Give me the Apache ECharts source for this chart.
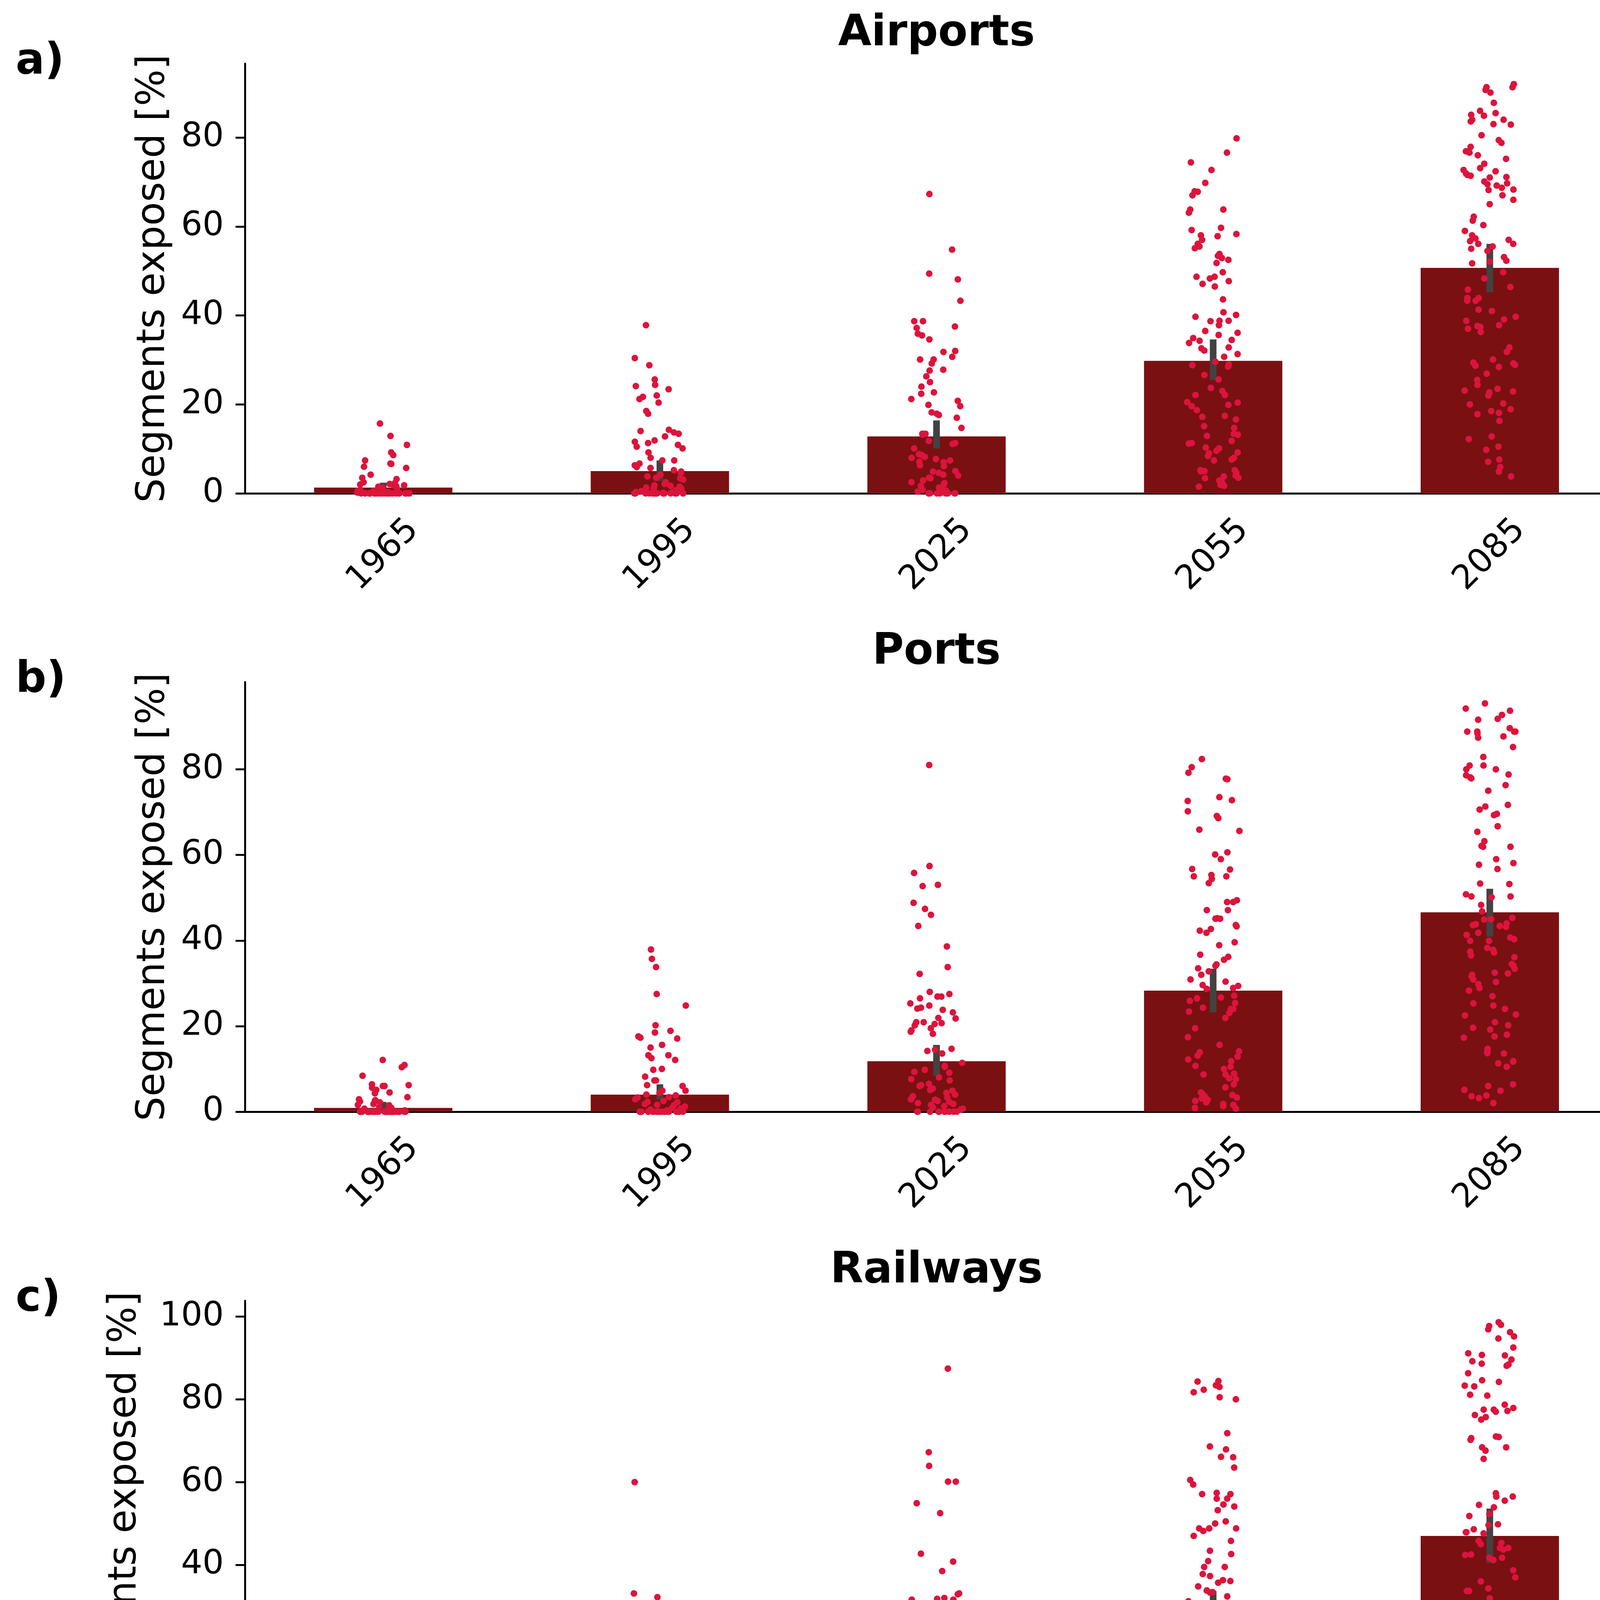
<!DOCTYPE html>
<html style="height: 100%">
<head>
    <meta charset="utf-8">
    <script src="https://cdn.jsdelivr.net/npm/echarts@6/dist/echarts.min.js"></script>
</head>
<body style="height: 100%; margin: 0">
<div id="main" style="width: 4204px; height: 7889px"></div>
<script type="text/javascript">
var YEARS = ['1965', '1995', '2025', '2055', '2085'];
var TITLES = ['Airports', 'Ports', 'Railways', 'Roads', 'IWWs'];
var LETTERS = ['a)', 'b)', 'c)', 'd)', 'e)'];

// bar height = mean share exposed, with the CI of the mean
var AIRPORTS_MEAN = [1.3, 5.0, 12.8, 29.8, 50.7];
var AIRPORTS_LOW = [0.6, 2.8, 10.1, 25.5, 45.2];
var AIRPORTS_HIGH = [2.4, 7.4, 16.4, 34.6, 56.1];
var PORTS_MEAN = [0.9, 4.0, 11.8, 28.3, 46.6];
var PORTS_LOW = [0.5, 2.9, 8.4, 23.2, 40.9];
var PORTS_HIGH = [2.3, 6.4, 15.6, 33.4, 52.1];
var RAILWAYS_MEAN = [1.2, 5.1, 12.2, 28.2, 47.0];
var RAILWAYS_LOW = [0.4, 2.5, 8.5, 23.0, 40.4];
var RAILWAYS_HIGH = [2.9, 7.7, 16.5, 33.7, 53.6];
var ROADS_MEAN = [1.3, 5.0, 12.2, 28.0, 47.4];
var ROADS_LOW = [0.5, 2.7, 8.5, 22.8, 41.6];
var ROADS_HIGH = [2.8, 7.4, 15.9, 33.2, 53.7];
var IWWS_MEAN = [0.8, 4.0, 11.0, 25.9, 41.9];
var IWWS_LOW = [0.6, 1.4, 7.1, 20.4, 34.9];
var IWWS_HIGH = [2.4, 7.0, 16.2, 31.7, 48.7];

// individual segments (strip points), one list per year
var AIRPORTS_POINTS = [
    [15.7,12.9,10.9,9.2,8.6,7.4,6.7,6.6,6.0,5.7,4.2,3.5,3.2,2.5,2.3,2.1,2.0,1.8,1.8,1.6,1.5,1.2,1.0,0.8,0.6,0.5,0.3,0.2,0.1,
     0,0,0,0,0,0,0,0,0,0,0,0,0,0,0,0,0,0,0,0,0,0,0,0,0,0,0,0,0,0],
    [37.8,30.4,28.8,25.6,24.4,24.1,23.4,22.0,21.7,21.2,20.4,18.5,17.9,14.3,14.0,13.7,13.4,12.8,11.9,11.6,11.3,10.9,10.5,10.1,9.2,8.0,7.4,7.4,6.7,6.3,5.9,5.7,5.2,4.9,4.6,4.2,3.8,3.5,3.4,3.1,2.5,2.1,1.8,1.7,1.5,1.3,1.1,1.0,0.8,0.7,0.5,0.4,0.3,0.2,0.1,
     0,0,0,0,0,0,0,0,0,0,0,0,0,0,0,0,0,0,0,0],
    [67.3,54.8,49.4,48.1,43.3,38.7,38.7,37.5,37.2,35.9,35.5,34.6,32.0,31.8,30.7,30.1,30.1,29.2,27.8,27.6,26.3,25.0,24.0,22.7,22.4,21.2,20.8,19.9,19.6,18.2,17.9,17.6,17.0,14.7,13.4,13.4,13.2,11.8,11.3,11.1,10.1,8.8,8.6,8.2,8.0,7.7,7.4,7.1,7.0,6.3,6.1,5.0,4.9,4.6,4.2,4.0,3.5,3.4,2.9,2.5,2.3,2.0,1.7,1.3,1.0,0.8,0.6,0.4,0.2,
     0,0,0,0,0,0,0,0,0,0],
    [79.8,76.6,74.4,72.7,69.8,67.8,67.9,67.0,63.8,63.8,63.1,59.7,59.2,58.3,57.8,58.0,57.0,56.1,55.5,55.1,53.8,53.4,52.9,52.5,51.8,49.7,48.7,48.7,48.3,47.7,47.1,46.5,43.6,40.7,40.1,39.7,38.8,38.7,38.8,37.8,36.5,36.1,35.6,34.9,34.5,34.3,33.8,32.8,32.6,32.1,31.3,30.7,29.6,29.0,28.8,28.5,26.6,25.6,23.7,23.0,22.1,22.1,20.5,20.4,19.9,19.6,18.7,17.4,17.2,16.6,15.1,14.7,13.4,13.2,12.9,11.8,11.3,11.2,10.3,10.1,9.6,9.2,9.0,8.4,8.0,7.6,7.4,5.2,5.2,5.0,4.9,4.6,4.0,3.8,3.5,3.4,2.9,2.5,2.3,1.9,1.7,1.5],
    [92.0,91.3,91.3,90.7,90.1,87.8,86.0,85.5,85.1,84.9,84.0,84.0,83.6,83.0,82.9,80.5,79.4,78.8,77.9,76.6,76.9,76.0,75.2,74.1,73.1,72.7,72.4,71.9,71.6,71.4,71.1,71.0,70.1,69.7,69.5,69.2,68.7,68.3,68.2,67.0,66.0,65.0,62.2,61.3,60.3,59.0,58.0,57.3,57.0,56.7,56.1,56.1,55.5,55.0,54.5,53.1,52.3,52.1,51.7,49.7,48.3,46.4,45.8,43.9,43.9,43.3,43.3,41.3,41.0,39.7,39.1,38.8,37.8,37.6,37.4,37.0,36.3,32.8,31.8,30.1,29.4,29.2,28.9,28.7,28.4,26.9,25.5,24.4,23.5,23.1,22.9,22.7,22.0,20.2,20.0,18.9,18.5,18.1,17.8,16.3,12.8,12.2,10.5,9.8,7.6,7.1,5.9,4.9,3.8]
];
var PORTS_POINTS = [
    [12.1,10.9,10.4,8.4,6.4,6.2,6.0,6.0,5.6,5.1,4.5,4.3,3.4,2.9,2.7,2.5,2.4,2.2,1.8,1.6,1.5,1.3,1.1,0.9,0.7,0.5,0.3,
     0,0,0,0,0,0,0,0,0,0,0,0,0,0,0,0,0,0,0,0,0,0,0,0,0,0,0,0,0,0],
    [37.9,35.7,33.8,27.5,24.8,20.2,18.9,18.5,17.6,17.3,17.1,15.6,15.0,13.2,13.2,12.5,12.1,10.0,9.8,8.2,7.3,7.3,6.2,6.0,4.9,4.9,4.4,4.0,3.8,3.4,3.3,2.9,2.5,2.3,2.2,1.8,1.6,1.5,1.2,0.9,0.7,0.5,0.3,
     0,0,0,0,0,0,0,0,0,0,0,0,0,0,0,0,0,0,0,0],
    [81.0,57.4,55.8,53.0,52.7,48.8,47.4,46.0,43.4,38.6,33.8,32.2,28.0,27.5,26.9,26.9,26.5,25.3,24.8,24.3,24.1,23.8,23.2,21.9,21.8,20.9,20.9,20.7,20.5,20.2,19.5,19.0,18.7,18.2,14.7,14.5,14.2,13.6,11.4,10.7,10.5,9.8,9.3,9.1,8.0,7.6,7.3,6.5,6.2,6.0,5.4,5.1,4.9,4.4,4.0,3.6,3.3,2.9,2.8,2.5,2.3,2.0,1.8,1.6,1.3,1.0,0.7,0.5,
     0,0,0,0,0,0,0,0,0,0],
    [82.4,80.5,79.2,77.8,77.7,73.5,72.8,72.6,70.2,69.1,68.6,65.9,65.6,60.6,60.1,59.0,56.7,56.6,55.3,55.0,55.0,54.4,53.4,49.4,49.0,49.0,47.1,47.1,45.2,45.1,45.1,43.6,43.3,42.7,42.3,41.8,39.6,38.9,36.7,36.2,35.5,34.4,34.1,33.5,32.8,32.0,30.9,30.4,29.6,29.4,28.9,28.7,27.1,26.7,26.5,25.9,25.4,24.3,24.0,24.0,23.4,23.1,21.9,19.5,17.4,15.6,14.1,13.9,13.1,12.9,12.2,11.8,10.7,10.5,10.0,8.9,8.7,8.7,7.8,7.6,6.4,5.7,4.5,4.2,3.9,3.6,3.3,3.1,2.8,2.5,2.2,1.8,1.6,1.3,0.9,0.7],
    [95.4,94.2,93.7,92.7,91.8,91.6,89.6,88.8,88.8,88.8,88.8,88.4,87.7,87.4,85.2,82.9,80.9,80.9,80.0,80.0,78.8,78.6,78.1,77.9,76.3,75.0,71.7,71.3,70.6,69.6,69.3,66.7,65.4,63.2,62.1,61.9,61.9,59.0,58.1,57.7,56.7,53.3,53.2,50.8,50.3,50.3,50.1,48.3,46.8,45.3,45.0,44.9,44.0,43.8,43.6,43.4,43.2,41.8,41.3,40.7,40.3,39.9,39.9,38.3,37.8,37.4,37.2,36.5,36.1,34.5,34.1,33.4,32.5,32.3,32.0,31.6,30.9,30.3,29.8,28.9,28.3,27.0,25.3,24.8,24.0,22.7,22.5,20.9,20.2,19.6,19.2,18.0,17.6,17.3,14.7,14.1,13.7,13.6,11.8,11.7,11.3,10.5,6.4,6.0,5.1,4.9,3.8,3.6,3.2,2.0]
];
var RAILWAYS_POINTS = [
    [19.0,17.9,16.9,15.9,11.3,7.6,6.8,5.6,5.1,4.5,4.1,4.0,3.0,2.5,2.3,2.0,1.7,1.5,1.3,1.1,1.0,0.8,0.5,0.3,
     0,0,0,0,0,0,0,0,0,0,0,0,0,0,0,0,0,0,0,0,0,0,0,0,0,0,0,0,0,0],
    [60.0,33.1,32.2,30.4,29.0,28.6,27.7,27.0,24.3,22.5,22.2,22.0,21.3,21.0,18.3,15.5,12.8,12.4,11.8,11.6,10.9,9.8,9.0,8.9,7.5,7.5,7.1,6.6,5.9,5.3,4.2,4.0,3.8,3.5,2.9,2.6,2.5,2.3,2.0,1.7,1.5,1.4,1.1,0.9,0.6,0.3,
     0,0,0,0,0,0,0,0,0,0,0,0,0,0,0,0,0,0,0,0],
    [87.4,67.2,63.9,60.1,60.1,54.9,52.5,42.7,40.8,38.5,33.1,32.9,32.0,31.8,31.6,31.6,30.8,29.5,28.1,25.6,24.1,24.1,22.8,22.4,21.8,19.9,19.5,19.3,17.7,17.5,16.9,16.0,15.3,14.5,14.5,13.9,13.5,12.6,11.3,10.4,9.8,9.2,8.6,8.0,7.4,6.8,6.6,5.6,5.3,5.1,4.7,4.1,4.0,3.6,3.4,3.1,2.8,2.5,2.1,1.7,1.4,1.1,0.8,0.5,
     0,0,0,0,0,0,0,0,0,0],
    [84.4,84.3,83.4,83.0,82.3,81.7,80.5,80.0,71.8,68.6,67.9,66.1,66.0,63.5,60.5,59.4,57.4,57.1,57.1,56.0,56.0,54.6,54.1,53.2,50.5,50.0,48.8,48.8,48.8,48.2,47.0,45.8,43.4,42.6,40.9,39.5,39.5,37.8,37.3,36.3,36.1,35.7,34.8,33.8,33.8,33.4,33.3,32.4,31.2,29.0,28.6,27.7,27.3,26.7,26.5,26.1,25.4,24.4,23.7,22.9,21.4,21.3,18.8,18.0,17.9,13.7,13.6,12.8,12.2,11.5,11.1,10.6,9.8,9.1,8.1,7.7,7.2,6.3,6.2,5.6,5.3,5.1,4.7,4.4,4.0,3.8,3.4,3.1,2.9,2.6,2.5,2.1,1.9,1.7,1.4,1.1,1.0,0.4,0.2,0,0],
    [98.6,98.0,97.7,96.9,96.2,95.2,94.7,92.5,91.1,90.7,90.6,89.6,89.2,88.6,88.4,88.1,86.3,84.6,84.2,83.3,83.1,81.1,80.9,78.7,77.9,77.5,77.5,77.2,77.0,76.2,75.7,75.1,71.0,70.9,70.6,70.2,68.4,68.4,67.6,65.6,57.3,56.5,56.5,55.5,54.5,53.9,52.3,51.8,49.8,49.6,48.6,47.9,47.9,47.6,45.8,45.3,45.0,44.1,44.1,43.7,42.5,42.4,41.7,41.7,41.2,38.7,37.0,36.0,34.3,33.7,33.7,31.9,30.4,29.1,28.2,27.6,27.3,25.9,25.0,24.5,24.1,21.1,21.1,19.6,19.6,17.4,16.2,15.5,15.3,14.8,14.3,13.7,13.4,13.0,11.3,11.0,10.7,10.4,8.8,8.2,6.6,5.6,5.3,4.7,4.4,4.0,3.4,3.1,1.1,1.1,1.1]
];
var ROADS_POINTS = [
    [18.6,15.8,14.0,11.9,10.4,8.5,8.2,6.9,6.3,6.3,6.2,4.8,3.8,3.4,2.9,2.7,2.5,2.3,1.9,1.7,1.5,1.3,1.2,0.8,0.6,0.3,
     0,0,0,0,0,0,0,0,0,0,0,0,0,0,0,0,0,0,0,0,0,0,0,0,0,0,0,0,0,0],
    [51.2,32.2,28.6,28.3,26.9,24.6,24.0,23.3,22.7,22.4,22.0,21.8,21.4,20.7,15.1,13.9,13.5,13.5,12.2,12.0,11.5,10.8,9.1,8.0,7.1,6.7,6.1,5.6,5.2,5.0,4.5,4.1,4.0,3.2,2.9,2.7,2.3,1.9,1.7,1.5,1.2,1.0,0.7,0.4,
     0,0,0,0,0,0,0,0,0,0,0,0,0,0,0,0,0,0,0,0],
    [80.6,61.5,55.0,52.0,49.7,49.2,47.0,38.5,37.1,36.9,35.9,33.6,32.1,31.4,31.2,29.5,28.7,28.7,28.1,27.9,26.5,26.4,24.8,24.6,23.2,22.9,20.9,19.8,18.1,17.6,17.4,17.2,16.6,16.4,15.9,15.8,15.3,14.6,14.1,13.1,11.0,10.8,10.2,9.9,8.9,8.2,7.2,6.9,6.5,6.0,5.6,5.0,4.9,4.5,4.1,4.0,3.4,3.2,2.8,2.5,2.2,1.9,1.5,1.3,1.0,0.7,0.4,
     0,0,0,0,0,0,0,0,0,0],
    [80.1,78.9,78.6,78.0,76.0,75.5,74.8,74.4,68.5,63.5,62.0,62.0,61.8,60.4,59.6,59.1,58.7,58.0,56.7,55.5,55.0,52.9,51.9,51.9,50.6,50.2,50.0,49.1,48.0,47.2,45.8,39.8,39.5,38.9,38.8,37.7,36.2,35.4,35.1,34.7,34.5,33.1,32.6,32.1,31.0,30.8,30.5,30.2,30.1,29.7,28.0,27.3,27.1,26.5,25.6,24.2,23.6,23.1,22.9,22.4,22.2,21.4,19.9,19.0,18.7,17.5,17.0,16.9,15.8,15.2,13.0,10.2,9.5,9.3,9.1,8.9,8.7,8.4,7.8,7.6,7.2,6.7,5.2,5.0,4.9,4.5,4.1,4.0,3.6,3.2,3.0,2.7,2.4,2.3,1.9,1.5,1.2,0.8,0.6,0.4,0,0],
    [96.8,95.7,95.6,94.0,93.6,93.2,91.6,87.8,87.8,86.4,86.2,86.1,85.3,84.8,84.5,84.3,83.9,81.7,81.7,81.2,80.8,76.8,76.0,76.0,75.6,75.4,75.2,74.1,73.0,72.9,71.8,71.2,71.2,70.6,70.3,69.9,69.6,66.3,64.9,62.9,57.5,56.5,56.5,56.2,53.6,52.4,52.4,52.0,51.6,50.6,49.4,48.9,48.6,48.3,47.1,46.8,46.5,46.1,45.1,43.9,43.7,43.4,40.0,39.5,37.8,37.4,37.3,36.1,34.9,34.9,33.8,33.8,32.6,32.1,32.1,31.9,31.4,31.0,30.8,29.3,26.4,24.8,24.2,24.2,22.4,22.0,21.4,20.6,19.8,19.6,18.7,16.9,15.5,15.0,14.7,14.4,13.7,12.6,12.4,11.6,11.3,8.7,7.7,7.5,7.4,6.0,5.8,4.5,4.1,2.4,2.3,1.8,1.7]
];
var IWWS_POINTS = [
    [17.1,15.4,11.9,11.0,9.2,8.3,6.0,4.6,3.1,2.9,2.7,2.5,2.3,2.0,1.8,1.4,1.2,1.0,0.6,0.3,
     0,0,0,0,0,0,0,0,0,0,0,0,0,0,0,0,0,0,0,0,0,0,0,0,0,0,0,0,0,0],
    [60.2,59.7,52.2,37.9,29.7,26.1,22.5,18.4,18.4,18.1,12.0,11.6,11.0,10.0,9.7,7.9,7.6,7.5,6.9,5.5,5.2,4.6,4.0,3.8,3.5,3.3,2.9,2.7,2.4,2.0,1.8,1.5,1.2,1.0,0.8,0.5,0.3,
     0,0,0,0,0,0,0,0,0,0,0,0,0,0,0,0,0,0,0,0,0,0],
    [94.1,83.8,75.6,72.6,66.4,56.9,56.7,52.2,51.6,41.1,40.1,34.2,30.2,29.9,27.6,27.4,24.1,23.8,21.4,21.3,18.4,17.2,15.5,15.4,15.2,13.6,13.2,12.0,11.7,10.5,9.4,9.0,8.6,8.1,7.5,7.1,6.7,6.3,5.7,5.2,4.6,4.0,3.7,2.9,2.7,2.3,2.0,1.8,1.4,1.0,0.8,0.5,
     0,0,0,0,0,0,0,0,0,0,0,0,0,0],
    [95.5,93.7,93.6,89.9,86.1,81.7,81.6,78.4,77.0,75.1,74.6,71.8,71.6,70.5,65.6,63.4,61.9,61.3,60.5,54.1,54.0,53.6,52.9,48.7,48.3,48.3,48.0,45.9,44.3,43.3,43.3,43.2,42.7,42.0,40.1,39.6,35.9,34.3,34.0,31.5,30.5,29.8,29.7,28.8,28.3,28.0,26.9,25.4,24.8,24.4,23.6,22.8,22.1,22.1,21.5,20.4,20.3,19.8,18.5,17.1,16.0,15.7,15.5,14.9,14.5,13.6,13.4,11.2,10.2,10.1,8.1,7.9,7.5,7.3,6.1,5.9,5.6,5.2,4.6,4.4,4.0,3.7,3.5,3.0,2.7,2.5,2.0,1.8,1.5,1.4,1.2,1.0,0.8,0.6,0.5,0,0,0,0,0,0],
    [100.0,100.0,99.5,98.5,97.7,97.5,97.3,97.0,96.8,96.8,95.8,95.2,94.5,93.9,92.6,91.6,89.7,87.1,87.1,85.7,85.4,84.4,83.9,81.9,77.9,74.3,74.1,73.3,72.4,71.6,69.5,67.9,67.0,63.8,62.8,59.5,57.9,57.6,57.3,55.1,54.9,49.7,49.6,49.6,48.3,47.5,46.9,45.9,44.6,41.5,41.0,40.5,40.4,36.7,35.8,34.8,32.3,32.3,31.9,30.6,30.2,29.8,28.6,28.3,28.0,26.7,26.5,25.4,24.8,23.8,22.7,22.2,22.1,20.9,20.8,19.6,19.5,19.0,17.7,17.0,16.5,16.1,15.5,14.7,14.2,12.6,12.2,12.0,10.4,10.1,9.9,9.2,9.1,8.8,8.1,6.9,5.5,5.3,4.6,4.0,3.1,2.9,2.4,2.1,2.0,1.4,1.0,0.6,0.4,0.3]
];

var Y_MAX = [96.6, 100.4, 103.8, 101.9, 105.3];
var Y_TICKS = [[0, 20, 40, 60, 80], [0, 20, 40, 60, 80], [0, 20, 40, 60, 80, 100],
               [0, 20, 40, 60, 80, 100], [0, 20, 40, 60, 80, 100]];

var panels = [
    {mean: AIRPORTS_MEAN, low: AIRPORTS_LOW, high: AIRPORTS_HIGH, pts: AIRPORTS_POINTS},
    {mean: PORTS_MEAN, low: PORTS_LOW, high: PORTS_HIGH, pts: PORTS_POINTS},
    {mean: RAILWAYS_MEAN, low: RAILWAYS_LOW, high: RAILWAYS_HIGH, pts: RAILWAYS_POINTS},
    {mean: ROADS_MEAN, low: ROADS_LOW, high: ROADS_HIGH, pts: ROADS_POINTS},
    {mean: IWWS_MEAN, low: IWWS_LOW, high: IWWS_HIGH, pts: IWWS_POINTS}
];

// layout (px)
var FONT = 'DejaVu Sans';
var ZERO_Y = [1263, 2846, 4430, 6014, 7598];
var GRID_H = 1100, GRID_L = 627, GRID_R = 36;
var NAME_GAP = [183, 183, 256, 256, 256];
var BAR_COLOR = '#7a1012', DOT_COLOR = '#dc143c', ERR_COLOR = '#424242';
var AX = {color: '#000', width: 5};

// fixed horizontal spread of the strip points (hash of the index, same on every load)
function spread(i, k, j) {
    var s = Math.sin((j + 1) * 12.9898 + (k + 1) * 78.233 + (i + 1) * 37.719) * 43758.5453;
    return (s - Math.floor(s) - 0.5) * 0.19;
}

var chart = echarts.init(document.getElementById('main'));
var grid = [], xAxis = [], yAxis = [], series = [], graphic = [];

panels.forEach(function (p, i) {
    var top = ZERO_Y[i] - GRID_H;
    grid.push({left: GRID_L, right: GRID_R, top: top, height: GRID_H});
    xAxis.push({
        type: 'category', gridIndex: i, data: YEARS,
        axisLine: {onZero: false, lineStyle: AX},
        axisTick: {alignWithLabel: true, length: 24, lineStyle: AX},
        axisLabel: {interval: 0, rotate: 45, align: 'center', verticalAlign: 'middle', margin: 158,
                    fontSize: 86, fontFamily: FONT, color: '#000'},
        splitLine: {show: false}
    });
    xAxis.push({type: 'value', gridIndex: i, min: -0.5, max: 4.5, show: false});
    yAxis.push({
        type: 'value', gridIndex: i, min: 0, max: Y_MAX[i],
        name: 'Segments exposed [%]', nameLocation: 'middle', nameRotate: 90, nameGap: NAME_GAP[i],
        nameTextStyle: {fontSize: 99, fontFamily: FONT, color: '#000'},
        axisLine: {show: true, onZero: false, lineStyle: AX},
        axisTick: {show: true, length: 24, lineStyle: AX, customValues: Y_TICKS[i]},
        axisLabel: {customValues: Y_TICKS[i], fontSize: 86, fontFamily: FONT, color: '#000', margin: 54},
        splitLine: {show: false}
    });

    series.push({
        type: 'bar', xAxisIndex: 2 * i, yAxisIndex: i, data: p.mean,
        barWidth: '50%', itemStyle: {color: BAR_COLOR}, z: 2, silent: true
    });
    series.push({
        type: 'custom', xAxisIndex: 2 * i + 1, yAxisIndex: i, z: 3, silent: true,
        data: p.low.map(function (lo, k) { return [k, lo, p.high[k]]; }),
        encode: {x: 0, y: [1, 2]},
        renderItem: function (params, api) {
            var a = api.coord([api.value(0), api.value(1)]);
            var b = api.coord([api.value(0), api.value(2)]);
            return {type: 'line', shape: {x1: a[0], y1: a[1], x2: b[0], y2: b[1]},
                    style: {stroke: ERR_COLOR, lineWidth: 17}};
        }
    });
    var dots = [];
    p.pts.forEach(function (vals, k) {
        vals.forEach(function (v, j) { dots.push([k + spread(i, k, j), v]); });
    });
    series.push({
        type: 'scatter', xAxisIndex: 2 * i + 1, yAxisIndex: i, data: dots,
        symbolSize: 17, itemStyle: {color: DOT_COLOR, opacity: 1}, z: 4, silent: true
    });

    graphic.push({
        type: 'text', left: 40, top: top - 59,
        style: {text: LETTERS[i], font: 'bold 110px "DejaVu Sans"', fill: '#000'}
    });
    graphic.push({
        type: 'text', x: GRID_L + (4204 - GRID_L - GRID_R) / 2, y: top - 131,
        style: {text: TITLES[i], font: 'bold 110px "DejaVu Sans"', fill: '#000', align: 'center', verticalAlign: 'top'}
    });
});

chart.setOption({
    animation: false,
    backgroundColor: '#fff',
    grid: grid, xAxis: xAxis, yAxis: yAxis, series: series, graphic: graphic
});
</script>
</body>
</html>
